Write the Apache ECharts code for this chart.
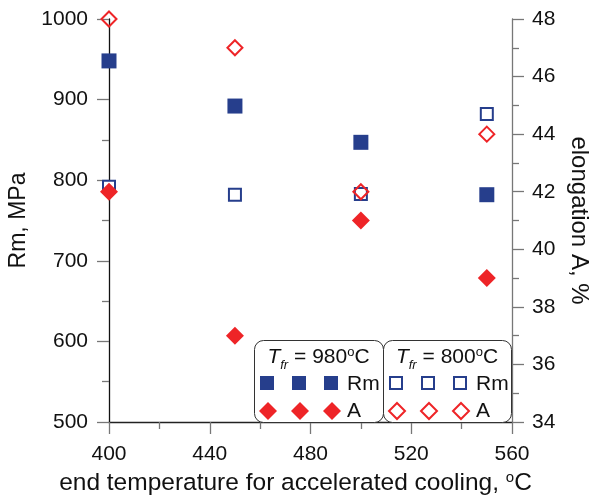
<!DOCTYPE html>
<html>
<head>
<meta charset="utf-8">
<script src="https://cdn.jsdelivr.net/npm/echarts@6/dist/echarts.min.js"></script>
<style>
  html, body { margin: 0; padding: 0; background: #fff; }
  #chart { width: 589px; height: 497px; }
</style>
</head>
<body>
<div id="chart"></div>
<script>
// End temperature of accelerated cooling, °C
const temps = [400, 450, 500, 550];
// Tensile strength Rm, MPa
const rm980 = [948, 892, 847, 782];
const rm800 = [792, 782, 783, 882];
// Elongation A, %
const a980 = [42, 37, 41, 39];
const a800 = [48, 47, 42, 44];

const BLUE = '#263e8c';
const RED = '#ee2427';
const FONT = '"Liberation Sans", Arial, sans-serif';
const FS = 21;     // tick labels and legend
const NFS = 24;    // axis names

const pairs = (ys) => temps.map((t, i) => [t, ys[i]]);

const chart = echarts.init(document.getElementById('chart'), null, { renderer: 'canvas' });

const tickStyle = { color: '#777', width: 1.3 };

// Legend block: two rounded boxes, each with a title and two symbol rows
function legendBox(x, w, title, filled) {
  const els = [];
  els.push({
    type: 'rect', left: x, top: 340, z: 10,
    shape: { width: w, height: 82, r: 9 },
    style: { fill: '#fff', stroke: '#333', lineWidth: 1 }
  });
  els.push({
    type: 'text', z: 11, x: x + w / 2, y: 357,
    style: {
      text: '{i|T}{s|fr}{n| = ' + title + '}{p|o}{n|C}',
      align: 'center', verticalAlign: 'middle',
      font: FS + 'px ' + FONT, fill: '#111',
      rich: {
        i: { fontStyle: 'italic', fontSize: FS, lineHeight: 30, verticalAlign: 'middle', fontFamily: FONT },
        s: { fontStyle: 'italic', fontSize: 13, lineHeight: 30, verticalAlign: 'bottom', fontFamily: FONT },
        n: { fontSize: FS, lineHeight: 30, verticalAlign: 'middle', fontFamily: FONT },
        p: { fontSize: 13, lineHeight: 30, verticalAlign: 'top', fontFamily: FONT, padding: [4, 0, 0, 0] }
      }
    }
  });
  const xs = [x + 13, x + 45, x + 77];
  xs.forEach((cx) => {
    els.push({
      type: 'rect', z: 11,
      shape: filled ? { x: cx - 7, y: 376, width: 14, height: 14 } : { x: cx - 6, y: 377, width: 12, height: 12 },
      style: filled ? { fill: BLUE } : { fill: '#fff', stroke: BLUE, lineWidth: 2 }
    });
    const d = filled ? 9 : 8;
    els.push({
      type: 'polygon', z: 11,
      shape: { points: [[cx + 1, 411 - d], [cx + 1 + d, 411], [cx + 1, 411 + d], [cx + 1 - d, 411]] },
      style: filled ? { fill: RED } : { fill: '#fff', stroke: RED, lineWidth: 2 }
    });
  });
  els.push({
    type: 'text', z: 11, x: x + 93, y: 384,
    style: { text: 'Rm', font: FS + 'px ' + FONT, fill: '#111', verticalAlign: 'middle' }
  });
  els.push({
    type: 'text', z: 11, x: x + 93, y: 411,
    style: { text: 'A', font: FS + 'px ' + FONT, fill: '#111', verticalAlign: 'middle' }
  });
  return els;
}

const plain = (v) => String(v);

const option = {
  backgroundColor: '#fff',
  animation: false,
  textStyle: { fontFamily: FONT },
  grid: { left: 109, right: 77, top: 19, bottom: 75, outerBoundsMode: 'none', containLabel: false },
  xAxis: {
    type: 'value', min: 400, max: 560, interval: 40,
    name: 'end temperature for accelerated cooling, {p|o}C',
    nameLocation: 'middle', nameGap: 45,
    nameTextStyle: {
      fontSize: 24.5, color: '#111', fontFamily: FONT, lineHeight: 26,
      padding: [0, 30, 0, 0],
      rich: { p: { fontSize: 15, verticalAlign: 'top', lineHeight: 26, fontFamily: FONT } }
    },
    axisLine: { lineStyle: { color: '#222', width: 1.3 } },
    axisTick: { length: 12, lineStyle: tickStyle },
    minorTick: { show: true, splitNumber: 2, length: 7, lineStyle: tickStyle },
    axisLabel: { fontSize: FS, color: '#111', margin: 22, fontFamily: FONT, formatter: plain },
    splitLine: { show: false }
  },
  yAxis: [
    {
      type: 'value', position: 'left', min: 500, max: 1000, interval: 100,
      name: 'Rm, MPa', nameLocation: 'middle', nameGap: 78,
      nameTextStyle: { fontSize: 23, color: '#111', fontFamily: FONT },
      axisLine: { show: true, lineStyle: { color: '#111', width: 1.3 } },
      axisTick: { length: 12, lineStyle: tickStyle },
      minorTick: { show: true, splitNumber: 2, length: 7, lineStyle: tickStyle },
      axisLabel: { fontSize: FS, color: '#111', margin: 21, fontFamily: FONT, formatter: plain },
      splitLine: { show: false }
    },
    {
      type: 'value', position: 'right', min: 34, max: 48, interval: 2,
      name: 'elongation A, %', nameLocation: 'middle', nameGap: 48, nameRotate: -90,
      nameTextStyle: { fontSize: NFS, color: '#111', fontFamily: FONT },
      axisLine: { show: true, lineStyle: { color: '#777', width: 1.3 } },
      axisTick: { length: 12, lineStyle: tickStyle },
      minorTick: { show: true, splitNumber: 2, length: 7, lineStyle: tickStyle },
      axisLabel: { fontSize: FS, color: '#111', margin: 20, fontFamily: FONT, formatter: plain },
      splitLine: { show: false }
    }
  ],
  series: [
    {
      name: 'Rm 980', type: 'scatter', yAxisIndex: 0, data: pairs(rm980),
      symbol: 'rect', symbolSize: 15, itemStyle: { color: BLUE, opacity: 1 }, z: 3
    },
    {
      name: 'Rm 800', type: 'scatter', yAxisIndex: 0, data: pairs(rm800),
      symbol: 'rect', symbolSize: 12, itemStyle: { color: '#fff', borderColor: BLUE, borderWidth: 2, opacity: 1 }, z: 3
    },
    {
      name: 'A 980', type: 'scatter', yAxisIndex: 1, data: pairs(a980),
      symbol: 'diamond', symbolSize: 18, itemStyle: { color: RED, opacity: 1 }, z: 4
    },
    {
      name: 'A 800', type: 'scatter', yAxisIndex: 1, data: pairs(a800),
      symbol: 'diamond', symbolSize: 15, itemStyle: { color: 'rgba(255,255,255,0)', borderColor: RED, borderWidth: 2, opacity: 1 }, z: 5
    }
  ],
  graphic: [].concat(
    legendBox(254, 129, '980', true),
    legendBox(383, 128, '800', false)
  )
};

chart.setOption(option);
</script>
</body>
</html>
